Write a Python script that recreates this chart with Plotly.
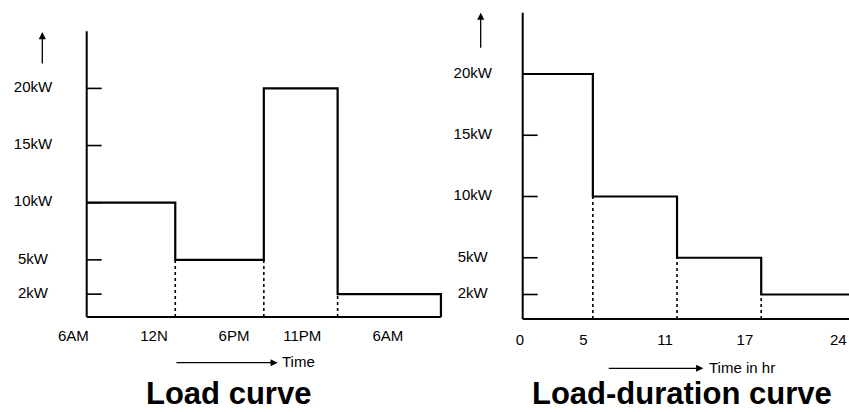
import plotly.graph_objects as go

# ---------------- data ----------------
# Load curve: time (hours after 6AM) at each change and the load in each interval
load_times = [0, 6, 12, 17, 24]          # 6AM, 12N, 6PM, 11PM, 6AM
load_kw = [10, 5, 20, 2]                 # kW in each interval
load_tick_text = ["6AM", "12N", "6PM", "11PM", "6AM"]
load_tick_pos = [-0.9, 4.56, 9.98, 14.6, 20.4]

# Load-duration curve derived from the load curve (sorted descending)
durations = [load_times[i + 1] - load_times[i] for i in range(len(load_kw))]
pairs = sorted(zip(load_kw, durations), key=lambda p: -p[0])
dur_kw = [p[0] for p in pairs]
dur_times = [0]
for p in pairs:
    dur_times.append(dur_times[-1] + p[1])   # 0, 5, 11, 17, 24
dur_tick_text = ["0", "5", "11", "17", "24"]
dur_tick_pos = [-0.19, 4.32, 10.14, 15.84, 22.49]

kw_ticks = [2, 5, 10, 15, 20]
kw_tick_text = ["2kW", "5kW", "10kW", "15kW", "20kW"]
axis_top_kw = 25

FONT = "Liberation Sans, Arial, sans-serif"
W, H = 849, 412
SPLIT = 460  # px where the two panels meet

# panel geometry (origin pixel and pixels per unit)
left_geo = dict(ox=86.7, oy=317.0, sx=14.76, sy=11.43, x0=0, x1=SPLIT)
right_geo = dict(ox=522.7, oy=319.0, sx=14.03, sy=12.25, x0=SPLIT, x1=W)

fig = go.Figure()


def axis_ranges(g):
    xr = [(g["x0"] - g["ox"]) / g["sx"], (g["x1"] - g["ox"]) / g["sx"]]
    yr = [-(H - g["oy"]) / g["sy"], g["oy"] / g["sy"]]
    return xr, yr


def line_trace(xs, ys, xa, ya, width, dash="solid", shape="linear"):
    fig.add_trace(go.Scatter(x=xs, y=ys, mode="lines",
                             line=dict(color="black", width=width, dash=dash, shape=shape),
                             xaxis=xa, yaxis=ya, cliponaxis=False, hoverinfo="skip",
                             showlegend=False))


def add_panel(times, kws, g, xa, ya, tick_pos, tick_text, ylab_x):
    # axes
    line_trace([0, 0, None, 0, times[-1]], [axis_top_kw, 0, None, 0, 0], xa, ya, 2)
    tl = 15 / g["sx"]
    tx, ty = [], []
    for v in kw_ticks:
        tx += [0, tl, None]
        ty += [v, v, None]
    line_trace(tx, ty, xa, ya, 1.6)
    # step curve
    xs = list(times) + [times[-1]]
    ys = list(kws) + [kws[-1], 0]
    line_trace(xs, ys, xa, ya, 2.2, shape="hv")
    # dotted drop lines
    dx, dy = [], []
    for i in range(1, len(kws)):
        dx += [times[i], times[i], None]
        dy += [0, min(kws[i - 1], kws[i]), None]
    line_trace(dx, dy, xa, ya, 1.6, dash="dot")
    # labels
    for xs_, ys_, tt in [([ylab_x] * len(kw_ticks), kw_ticks, kw_tick_text),
                         (tick_pos, [-1.8] * len(tick_pos), tick_text)]:
        fig.add_trace(go.Scatter(x=xs_, y=ys_, mode="text", text=tt, textposition="middle center",
                                 textfont=dict(family=FONT, size=15, color="black"),
                                 xaxis=xa, yaxis=ya, cliponaxis=False, hoverinfo="skip",
                                 showlegend=False))


add_panel(load_times, load_kw, left_geo, "x", "y", load_tick_pos, load_tick_text, -3.64)
add_panel(dur_times, dur_kw, right_geo, "x2", "y2", dur_tick_pos, dur_tick_text, -3.56)

lxr, lyr = axis_ranges(left_geo)
rxr, ryr = axis_ranges(right_geo)
hidden = dict(visible=False, showgrid=False, zeroline=False, fixedrange=True)
fig.update_layout(
    width=W, height=H,
    margin=dict(l=0, r=0, t=0, b=0),
    paper_bgcolor="white", plot_bgcolor="rgba(0,0,0,0)",
    hovermode=False,
    xaxis=dict(domain=[0, SPLIT / W], range=lxr, anchor="y", **hidden),
    yaxis=dict(domain=[0, 1], range=lyr, anchor="x", **hidden),
    xaxis2=dict(domain=[SPLIT / W, 1], range=rxr, anchor="y2", **hidden),
    yaxis2=dict(domain=[0, 1], range=ryr, anchor="x2", **hidden),
)


def px(xp, yp):
    return xp / W, 1 - yp / H


def arrow(head, tail):
    x, y = px(*head)
    fig.add_annotation(x=x, y=y, xref="paper", yref="paper", text="", showarrow=True,
                       ax=tail[0] - head[0], ay=tail[1] - head[1], axref="pixel", ayref="pixel",
                       arrowhead=2, arrowsize=1.1, arrowwidth=1.3, arrowcolor="black", standoff=0)


def text(pos, s, size, anchor="center", yanchor="middle", bold=False):
    x, y = px(*pos)
    fig.add_annotation(x=x, y=y, xref="paper", yref="paper", text=("<b>%s</b>" % s) if bold else s,
                       showarrow=False, xanchor=anchor, yanchor=yanchor, borderpad=0,
                       font=dict(family=FONT, size=size, color="black"))


arrow((42.3, 32), (42.3, 65))
arrow((277.7, 362.7), (175, 362.7))
text((281, 361.5), "Time", 15, "left")
arrow((480.7, 12.7), (480.7, 49.3))
arrow((703.3, 368.3), (607.3, 368.3))
text((707.5, 367.5), "Time in hr", 15, "left")
text((229, 412), "Load curve", 31, yanchor="bottom", bold=True)
text((682, 412), "Load-duration curve", 31, yanchor="bottom", bold=True)

fig.write_html("out.html", config={"displayModeBar": False},
               post_script="document.body.style.margin='0';")
